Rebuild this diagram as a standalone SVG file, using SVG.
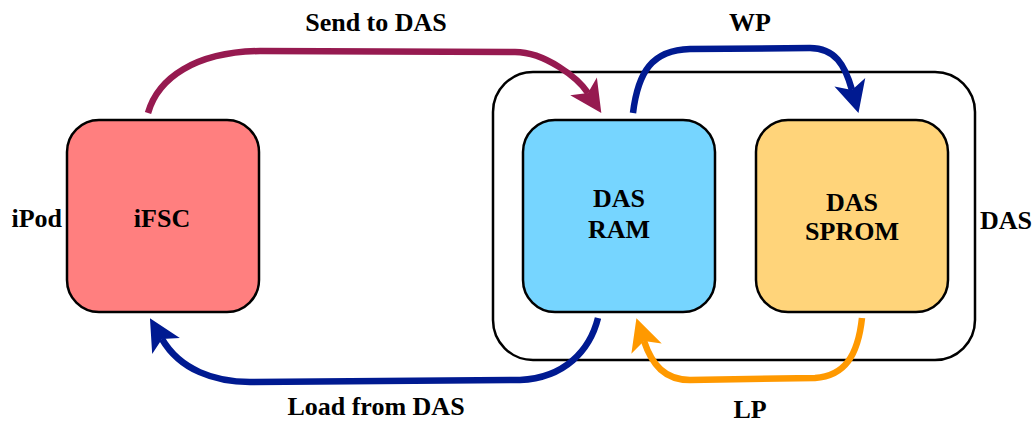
<svg xmlns="http://www.w3.org/2000/svg" width="1034" height="424" viewBox="0 0 1034 424">
<style>
.t{font-family:"Liberation Serif","Times New Roman",serif;font-weight:bold;font-size:26px;fill:#000;text-anchor:middle}
.box{stroke:#000;stroke-width:2.5}
.c{fill:none;stroke-width:6.5}
</style>
<defs>
<marker id="amag" markerUnits="userSpaceOnUse" markerWidth="44" markerHeight="44" viewBox="-12 -22 44 44" refX="0" refY="0" orient="auto"><path d="M24,0 L-8,-16 L0,0 L-8,16 Z" fill="#961A50"/></marker>
<marker id="ablue" markerUnits="userSpaceOnUse" markerWidth="44" markerHeight="44" viewBox="-12 -22 44 44" refX="0" refY="0" orient="auto"><path d="M24,0 L-8,-16 L0,0 L-8,16 Z" fill="#001A91"/></marker>
<marker id="aor" markerUnits="userSpaceOnUse" markerWidth="44" markerHeight="44" viewBox="-12 -22 44 44" refX="0" refY="0" orient="auto"><path d="M24,0 L-8,-16 L0,0 L-8,16 Z" fill="#FF9900"/></marker>
</defs>
<g id="das">
<rect class="box" x="493" y="72" width="482" height="288" rx="40" fill="none"/>
<text class="t" x="980" y="229" style="text-anchor:start">DAS</text>
</g>
<g id="ifsc">
<rect class="box" x="67" y="120" width="192" height="192" rx="32" fill="#FF7F7F"/>
<text class="t" x="162" y="227">iFSC</text>
<text class="t" x="62" y="227" style="text-anchor:end">iPod</text>
</g>
<g id="dasram">
<rect class="box" x="523" y="120" width="192" height="192" rx="32" fill="#76D5FF"/>
<text class="t" x="619" y="207">DAS</text>
<text class="t" x="619" y="238">RAM</text>
</g>
<g id="dassprom">
<rect class="box" x="756" y="120" width="192" height="192" rx="32" fill="#FFD47A"/>
<text class="t" x="852" y="211">DAS</text>
<text class="t" x="852" y="240">SPROM</text>
</g>
<g id="connectors">
<path class="c" stroke="#961A50" d="M148,113 C158,78 195,52 260,51 L515,52 C545,52 578,78 588,93" marker-end="url(#amag)"/>
<path class="c" stroke="#001A91" d="M633,113 C638,72 652,50 690,49 L810,48 C835,48 845,65 852,90" marker-end="url(#ablue)"/>
<path class="c" stroke="#001A91" d="M598,318 C590,350 565,378 520,380 L250,382 C215,382 180,370 162,339" marker-end="url(#ablue)"/>
<path class="c" stroke="#FF9900" d="M862,318 C858,355 845,376 815,378 L690,380 C665,380 652,365 644,341" marker-end="url(#aor)"/>
<text class="t" x="376" y="31">Send to DAS</text>
<text class="t" x="750" y="31">WP</text>
<text class="t" x="376" y="415">Load from DAS</text>
<text class="t" x="750" y="418">LP</text>
</g>
</svg>
